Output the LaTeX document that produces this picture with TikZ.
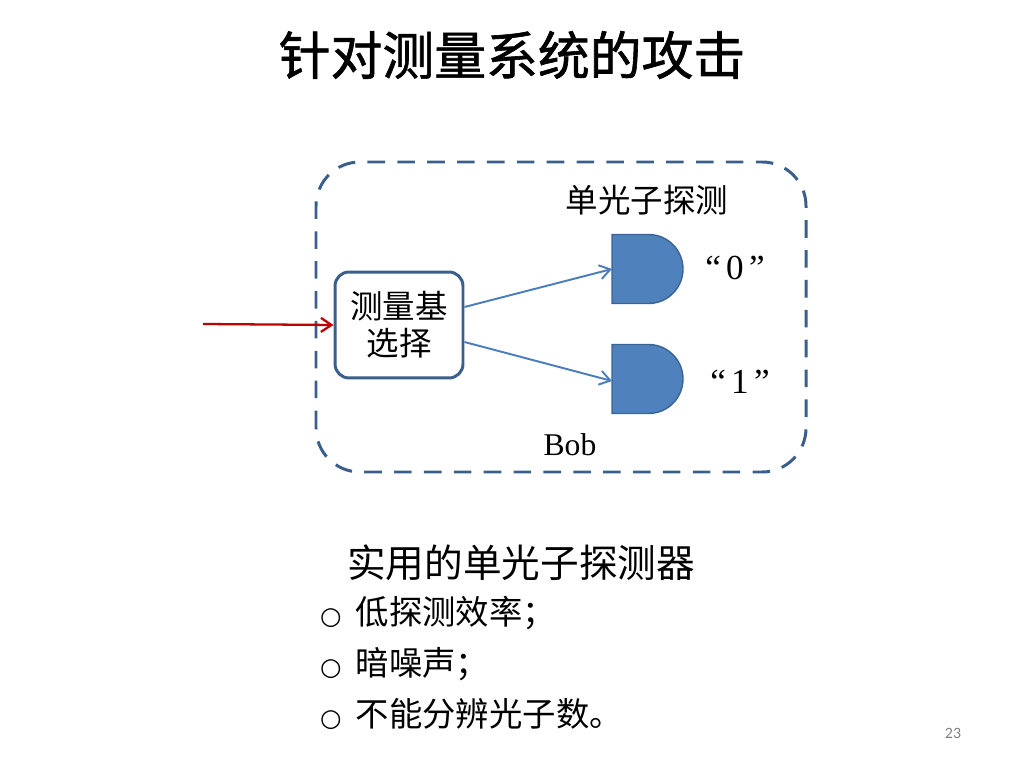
\documentclass[tikz,border=0pt]{standalone}
\usepackage{fontspec}
\setmainfont{Liberation Serif}
\newfontfamily\cjk{Noto Sans CJK SC}
\newfontfamily\cjktitle[FakeBold=1.2]{Noto Sans CJK SC}
\newfontfamily\bulletfont{DejaVu Sans}
\newfontfamily\numfont{Carlito}
\usepackage{tikz}
\usetikzlibrary{arrows.meta}
\definecolor{framblue}{HTML}{3A5F8B}
\definecolor{detblue}{HTML}{4F81BD}
\definecolor{detline}{HTML}{3A6395}
\definecolor{arrblue}{HTML}{4A7EBB}
\definecolor{inred}{HTML}{C00000}
\newcommand{\bul}{{\bulletfont\fontsize{14}{16}\selectfont ○}\hspace{8pt}}

\begin{document}
\begin{tikzpicture}[x=0.02cm, y=0.02cm,
    frame/.style={draw=framblue, line width=1.7pt, dash pattern=on 10pt off 7pt, rounded corners=25pt},
    selbox/.style={draw=framblue, line width=1.7pt, fill=white, rounded corners=8pt,
      minimum width=2.56cm, minimum height=2.12cm, align=center, inner sep=0pt},
    detector/.style={fill=detblue, draw=detline, line width=0.8pt},
    beam/.style={draw=arrblue, line width=1.1pt, -{Straight Barb[length=6pt, width=8pt]}},
    label/.style={font=\fontsize{18.5}{22}\selectfont\cjk},
    item/.style={anchor=west, font=\fontsize{19}{23}\selectfont\cjk}
]
  \useasboundingbox (0,0) rectangle (1024,768);

  % Titel
  \node[font=\fontsize{29.5}{35}\selectfont\cjktitle] (title) at (512,713) {针对测量系统的攻击};

  % Bob (gestrichelter Rahmen)
  \draw[frame] (316,296) rectangle (806,606);
  \node[font=\fontsize{18}{22}\selectfont] (bob) at (570,323) {Bob};

  % Messbasis-Auswahl
  \node[selbox, font=\fontsize{18.5}{21}\selectfont\cjk] (msel) at (399,443) {测量基\\选择};

  % Detektoren
  \coordinate (det0) at (612,499);
  \coordinate (det1) at (612,389);
  \foreach \d in {det0,det1}
    \filldraw[detector] ([yshift=-0.69cm]\d) -- ++(0.73cm,0)
      arc[start angle=-90, end angle=90, radius=0.69cm] -- ++(-0.73cm,0) -- cycle;
  \node[label] (detlbl) at (647,568) {单光子探测};
  \node[font=\fontsize{20}{24}\selectfont] (out0) at (735,500) {“\hspace{3pt}0\hspace{3pt}”};
  \node[font=\fontsize{20}{24}\selectfont] (out1) at (740,386) {“\hspace{3pt}1\hspace{3pt}”};

  % Strahlen
  \coordinate (src) at (203,444);
  \draw[draw=inred, line width=1.3pt, -{Straight Barb[length=6pt, width=8pt]}] (src) -- (msel.west);
  \draw[beam] ([yshift=0.36cm]msel.east) -- (det0);
  \draw[beam] ([yshift=-0.34cm]msel.east) -- ([yshift=-0.04cm]det1);

  % Text unten
  \node[anchor=west, font=\fontsize{22}{26}\selectfont\cjk] (head) at (341,205) {实用的单光子探测器};
  \node[item] (it1) at (314,155) {\bul 低探测效率；};
  \node[item] (it2) at (314,104) {\bul 暗噪声；};
  \node[item] (it3) at (314,54) {\bul 不能分辨光子数。};

  % Seitenzahl
  \node[text=gray, font=\fontsize{9}{11}\selectfont\numfont] (page) at (953,35) {23};

\end{tikzpicture}
\end{document}
